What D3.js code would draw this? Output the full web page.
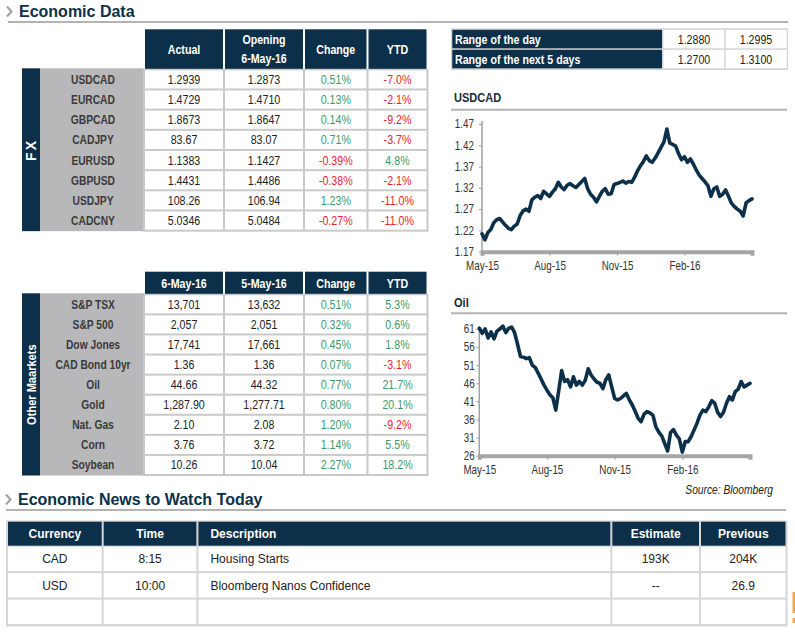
<!DOCTYPE html>
<html><head><meta charset="utf-8">
<script src="https://cdn.jsdelivr.net/npm/d3@7"></script>
<style>
body{margin:0;background:#fff}
svg{display:block}
</style>
</head><body><div id="chart"></div>
<script>
// ---------------- DATA ----------------
const fxPairs   = ["USDCAD","EURCAD","GBPCAD","CADJPY","EURUSD","GBPUSD","USDJPY","CADCNY"];
const fxActual  = ["1.2939","1.4729","1.8673","83.67","1.1383","1.4431","108.26","5.0346"];
const fxOpening = ["1.2873","1.4710","1.8647","83.07","1.1427","1.4486","106.94","5.0484"];
const fxChange  = [0.51,0.13,0.14,0.71,-0.39,-0.38,1.23,-0.27];
const fxYtd     = [-7.0,-2.1,-9.2,-3.7,4.8,-2.1,-11.0,-11.0];
const fxHeaders = [["Actual"],["Opening","6-May-16"],["Change"],["YTD"]];

const mktNames  = ["S&P TSX","S&P 500","Dow Jones","CAD Bond 10yr","Oil","Gold","Nat. Gas","Corn","Soybean"];
const mktToday  = ["13,701","2,057","17,741","1.36","44.66","1,287.90","2.10","3.76","10.26"];
const mktPrev   = ["13,632","2,051","17,661","1.36","44.32","1,277.71","2.08","3.72","10.04"];
const mktChange = [0.51,0.32,0.45,0.07,0.77,0.80,1.20,1.14,2.27];
const mktYtd    = [5.3,0.6,1.8,-3.1,21.7,20.1,-9.2,5.5,18.2];
const mktHeaders = [["6-May-16"],["5-May-16"],["Change"],["YTD"]];

const rangeLabels = ["Range of the day","Range of the next 5 days"];
const rangeLow    = ["1.2880","1.2700"];
const rangeHigh   = ["1.2995","1.3100"];

const newsHeaders  = ["Currency","Time","Description","Estimate","Previous"];
const newsCurrency = ["CAD","USD",""];
const newsTime     = ["8:15","10:00",""];
const newsDesc     = ["Housing Starts","Bloomberg Nanos Confidence",""];
const newsEstimate = ["193K","--",""];
const newsPrevious = ["204K","26.9",""];

// chart series: one value every 4 days starting 4-May-2015
const seriesStart = "2015-05-04";
const seriesStepDays = 4;
const seriesSpanDays = 368;
const usdcadValues = [1.212,1.198,1.215,1.222,1.238,1.245,1.248,1.240,1.232,1.225,
  1.222,1.230,1.235,1.255,1.266,1.270,1.265,1.292,1.298,1.302,
  1.295,1.312,1.306,1.300,1.310,1.318,1.333,1.322,1.316,1.326,
  1.330,1.325,1.321,1.328,1.335,1.342,1.318,1.305,1.298,1.287,
  1.300,1.312,1.318,1.305,1.306,1.328,1.330,1.333,1.336,1.331,
  1.335,1.333,1.345,1.360,1.372,1.382,1.395,1.384,1.380,1.390,
  1.402,1.415,1.428,1.458,1.425,1.422,1.418,1.400,1.386,1.393,
  1.380,1.388,1.376,1.362,1.350,1.342,1.334,1.325,1.300,1.318,
  1.322,1.300,1.305,1.315,1.300,1.284,1.276,1.270,1.265,1.254,
  1.285,1.290,1.294];
const oilValues = [61.2,59.8,61.0,58.5,60.2,58.3,60.4,61.0,61.8,60.0,
  61.2,61.5,60.0,56.8,53.4,53.2,52.8,53.1,51.0,50.4,
  48.8,47.2,45.5,44.1,42.8,42.0,38.6,44.0,49.5,46.5,
  47.0,45.0,47.8,45.5,46.5,45.5,46.8,50.0,48.3,47.2,
  46.3,46.0,44.5,47.0,48.3,45.0,41.8,41.4,41.8,42.5,
  43.2,41.4,40.0,38.2,36.3,35.4,37.5,38.2,37.8,37.2,
  34.0,32.5,31.5,29.4,27.3,32.4,33.2,31.7,30.6,27.0,
  29.9,29.9,31.3,33.1,35.0,37.2,38.6,38.2,39.5,41.2,
  40.5,38.0,36.8,38.0,40.5,42.3,41.4,43.7,44.4,46.5,
  45.0,45.5,46.0];
const usdcadTicks = [1.17,1.22,1.27,1.32,1.37,1.42,1.47];
const oilTicks = [26,31,36,41,46,51,56,61];
const dateTicks = ["2015-05-04","2015-08-04","2015-11-04","2016-02-04"];

// ---------------- STYLE ----------------
const W = 795, H = 632;
const NAVY = "#0c3049", LABELGRAY = "#b8b8ba", BORDER = "#c9c9c9";
const GREEN = "#3d9a68", RED = "#e8232b", TXT = "#222";
const SANS = "'Liberation Sans',Arial,sans-serif";
const SX = 0.82; // horizontal squeeze to emulate a narrow face

const svg = d3.select("#chart").append("svg").attr("width", W).attr("height", H)
  .style("background", "#fff");

function txt(x, y, s, o = {}) {
  const sx = o.sx === undefined ? SX : o.sx;
  return svg.append("text").attr("x", 0).attr("y", 0)
    .attr("transform", `translate(${x},${y}) scale(${sx},1)`).text(s)
    .attr("font-family", SANS)
    .attr("font-size", o.size || 13)
    .attr("font-weight", o.weight || "normal")
    .attr("font-style", o.style || "normal")
    .attr("fill", o.fill || TXT)
    .attr("text-anchor", o.anchor || "middle");
}

// ---------------- SECTION HEADERS ----------------
function sectionHeader(x, baseline, title, lineY, lx0, lx1) {
  svg.append("path")
    .attr("d", `M${x},${baseline - 10.5} L${x + 4.5},${baseline - 5.5} L${x},${baseline - 0.5}`)
    .attr("fill", "none").attr("stroke", "#a3a3a3").attr("stroke-width", 2.2);
  txt(x + 12, baseline, title, {size: 16, weight: "bold", fill: NAVY, anchor: "start", sx: 1});
  svg.append("line").attr("x1", lx0).attr("x2", lx1).attr("y1", lineY).attr("y2", lineY)
    .attr("stroke", "#b3b3b3").attr("stroke-width", 2);
}
sectionHeader(7, 17, "Economic Data", 22, 8, 788);
sectionHeader(6, 505, "Economic News to Watch Today", 510, 6, 786);

// ---------------- MARKET TABLES ----------------
const colX = [144, 224, 304, 367.5, 427.5];
const pct = (v, d) => v.toFixed(d) + "%";
const col = v => v < 0 ? RED : GREEN;

function dataBlock(headers, headTop, dataTop, rowH, labels, c1, c2, chg, ytd, side, sideOpts) {
  const n = labels.length;
  const bottom = dataTop + n * rowH;
  const rows = d3.scaleBand().domain(d3.range(n)).range([dataTop, bottom]);
  headers.forEach((h, i) => {
    svg.append("rect").attr("x", colX[i] + 1).attr("y", headTop)
      .attr("width", colX[i + 1] - colX[i] - 2).attr("height", dataTop - headTop).attr("fill", NAVY);
    const cx = (colX[i] + colX[i + 1]) / 2, cy = (headTop + dataTop) / 2;
    h.forEach((line, j) => txt(cx, cy + (j - (h.length - 1) / 2) * 19 + 4.5, line,
      {size: 13, weight: "bold", fill: "#fff"}));
  });
  svg.append("rect").attr("x", 22).attr("y", dataTop - 1).attr("width", 18)
    .attr("height", bottom - dataTop + 1.5).attr("fill", NAVY);
  svg.append("text")
    .attr("transform", `translate(31,${(dataTop + bottom) / 2}) rotate(-90) scale(${sideOpts.sx},1)`)
    .attr("dy", "0.36em").attr("text-anchor", "middle").attr("font-family", SANS)
    .attr("font-size", sideOpts.size).attr("font-weight", "bold").attr("fill", "#fff")
    .attr("letter-spacing", sideOpts.ls).text(side);
  svg.append("rect").attr("x", 40).attr("y", dataTop - 1).attr("width", colX[0] - 40)
    .attr("height", bottom - dataTop + 1.5).attr("fill", LABELGRAY);
  svg.append("rect").attr("x", colX[0] - 1).attr("y", dataTop - 0.5)
    .attr("width", colX[4] - colX[0] + 2).attr("height", bottom - dataTop + 1.5).attr("fill", BORDER);
  labels.forEach((lab, r) => {
    const y0 = rows(r), yb = y0 + rowH / 2 + 4.5;
    for (let i = 0; i < 4; i++) {
      svg.append("rect").attr("x", colX[i] + 1).attr("y", y0 + 1)
        .attr("width", colX[i + 1] - colX[i] - 2).attr("height", rowH - 2).attr("fill", "#fff");
    }
    txt(93, yb, lab, {size: 12.5, weight: "bold", fill: "#3a3a3a"});
    txt((colX[0] + colX[1]) / 2, yb, c1[r]);
    txt((colX[1] + colX[2]) / 2, yb, c2[r]);
    txt((colX[2] + colX[3]) / 2, yb, pct(chg[r], 2), {fill: col(chg[r])});
    txt((colX[3] + colX[4]) / 2, yb, pct(ytd[r], 1), {fill: col(ytd[r])});
  });
}
dataBlock(fxHeaders, 29.3, 69.3, 20.17, fxPairs, fxActual, fxOpening, fxChange, fxYtd, "FX",
  {size: 14, sx: 1, ls: 2});
dataBlock(mktHeaders, 271.7, 294.3, 20.08, mktNames, mktToday, mktPrev, mktChange, mktYtd, "Other Maarkets",
  {size: 13.5, sx: SX, ls: 0});

// ---------------- RANGE TABLE ----------------
svg.append("rect").attr("x", 451).attr("y", 28.3).attr("width", 337).attr("height", 41.7).attr("fill", "#d4d4d4");
const rangeRows = d3.scaleBand().domain(d3.range(rangeLabels.length)).range([29.3, 69.3]);
rangeLabels.forEach((lab, r) => {
  const y0 = rangeRows(r) + 0.5, h = rangeRows.bandwidth() - 1.5;
  svg.append("rect").attr("x", 452.3).attr("y", y0).attr("width", 209.7).attr("height", h).attr("fill", NAVY);
  svg.append("rect").attr("x", 663.5).attr("y", y0).attr("width", 60.8).attr("height", h).attr("fill", "#fff");
  svg.append("rect").attr("x", 725.7).attr("y", y0).attr("width", 61.1).attr("height", h).attr("fill", "#fff");
  const yb = y0 + h / 2 + 4.5;
  txt(455, yb, lab, {size: 13, weight: "bold", fill: "#fff", anchor: "start"});
  txt(694, yb, rangeLow[r]);
  txt(756, yb, rangeHigh[r]);
});

// ---------------- LINE CHARTS ----------------
const parse = d3.timeParse("%Y-%m-%d");
const t0 = parse(seriesStart);
const t1 = d3.timeDay.offset(t0, seriesSpanDays);
const toSeries = vals => vals.map((v, i) => ({date: d3.timeDay.offset(t0, i * seriesStepDays), value: v}));

function lineChart(o) {
  svg.append("line").attr("x1", 451).attr("x2", 787).attr("y1", o.lineY).attr("y2", o.lineY)
    .attr("stroke", "#b3b3b3").attr("stroke-width", 2);
  txt(454, o.titleY, o.title, {size: 13.5, weight: "bold", fill: "#1d2b38", anchor: "start"});
  const x = d3.scaleTime().domain([t0, t1]).range(o.xr);
  const y = d3.scaleLinear().domain(o.yd).range(o.yr);
  const gy = svg.append("g").attr("transform", `translate(${o.xr[0]},0)`)
    .call(d3.axisLeft(y).tickValues(o.ticks).tickFormat(o.fmt).tickSizeOuter(0).tickSize(3).tickPadding(o.pad));
  gy.select(".domain").attr("stroke", "#a0a0a0").attr("stroke-width", 1.5)
    .attr("d", `M0,${o.yr[1] - 3}V${o.yr[0]}`);
  gy.selectAll(".tick line").attr("stroke", "#a0a0a0");
  gy.selectAll(".tick text").attr("font-family", SANS).attr("font-size", 12).attr("fill", "#333")
    .attr("x", -(3 + o.pad) / SX).attr("transform", `scale(${SX},1)`);
  const gx = svg.append("g").attr("transform", `translate(0,${o.yr[0]})`)
    .call(d3.axisBottom(x).tickValues(dateTicks.map(parse)).tickFormat(d3.timeFormat("%b-%y"))
      .tickSizeOuter(0).tickSize(4).tickPadding(6));
  gx.select(".domain").attr("stroke", "#a5a5a5").attr("stroke-width", 4);
  gx.selectAll(".tick line").attr("stroke", "#a0a0a0");
  gx.selectAll(".tick text").attr("font-family", SANS).attr("font-size", 12).attr("fill", "#333")
    .attr("transform", `scale(${SX},1)`);
  svg.append("path").datum(toSeries(o.values))
    .attr("fill", "none").attr("stroke", NAVY).attr("stroke-width", 3.6)
    .attr("stroke-linejoin", "round").attr("stroke-linecap", "round")
    .attr("d", d3.line().x(d => x(d.date)).y(d => y(d.value)));
}
lineChart({title: "USDCAD", titleY: 102, lineY: 109.7, xr: [482, 752], yd: [1.17, 1.47], yr: [251.7, 124],
  ticks: usdcadTicks, fmt: d3.format(".2f"), pad: 5, values: usdcadValues});
lineChart({title: "Oil", titleY: 306.7, lineY: 313.3, xr: [479.3, 750], yd: [26, 61], yr: [455.7, 329],
  ticks: oilTicks, fmt: d3.format("d"), pad: 1.5, values: oilValues});

txt(773, 494, "Source: Bloomberg", {size: 12.5, style: "italic", anchor: "end"});

// ---------------- NEWS TABLE ----------------
const newsX = [7, 102.7, 197.4, 611.3, 700, 786.5];
const newsCols = [newsCurrency, newsTime, newsDesc, newsEstimate, newsPrevious];
const newsRows = d3.scaleBand().domain(d3.range(newsCurrency.length)).range([545.7, 625]);
svg.append("rect").attr("x", newsX[0] - 1).attr("y", 520.5).attr("width", newsX[5] - newsX[0] + 2)
  .attr("height", 106).attr("fill", "#d6d6d6");
newsHeaders.forEach((h, i) => {
  svg.append("rect").attr("x", newsX[i] + 1).attr("y", 521.7)
    .attr("width", newsX[i + 1] - newsX[i] - 2).attr("height", 24).attr("fill", NAVY);
  const left = i === 2;
  txt(left ? 210.4 : (newsX[i] + newsX[i + 1]) / 2, 538, h,
    {size: 12, weight: "bold", fill: "#fff", anchor: left ? "start" : "middle", sx: 1});
});
newsCurrency.forEach((_, r) => {
  const y0 = newsRows(r), h = newsRows.bandwidth();
  newsCols.forEach((c, i) => {
    svg.append("rect").attr("x", newsX[i] + 1).attr("y", y0 + 1)
      .attr("width", newsX[i + 1] - newsX[i] - 2).attr("height", h - 2).attr("fill", "#fff");
    const left = i === 2;
    txt(left ? 210.4 : (newsX[i] + newsX[i + 1]) / 2, y0 + h / 2 + 4.5, c[r],
      {size: 12, anchor: left ? "start" : "middle", sx: 1});
  });
});

// small orange marker at right edge
svg.append("rect").attr("x", 792.5).attr("y", 592).attr("width", 2.5).attr("height", 21).attr("fill", "#f2a94e");
svg.append("rect").attr("x", 792.5).attr("y", 618).attr("width", 2.5).attr("height", 5).attr("fill", "#f2a94e");
</script>
</body></html>
